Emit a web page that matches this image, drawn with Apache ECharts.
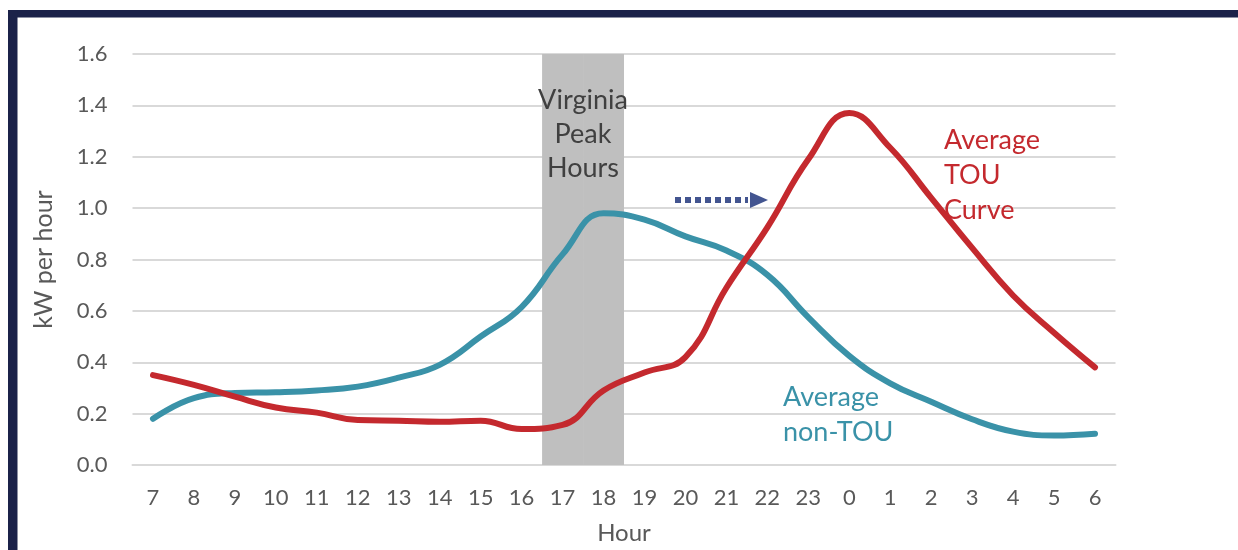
<!DOCTYPE html>
<html>
<head>
<meta charset="utf-8">
<script src="https://cdn.jsdelivr.net/npm/echarts@6/dist/echarts.min.js"></script>
<style>
html,body{margin:0;padding:0;background:#fff;}
#chart{width:1238px;height:550px;}
</style>
</head>
<body>
<div id="chart"></div>
<script>
const hours = ['7','8','9','10','11','12','13','14','15','16','17','18','19','20','21','22','23','0','1','2','3','4','5','6'];
const nonTou = [0.18,0.26,0.28,0.283,0.29,0.305,0.34,0.39,0.50,0.615,0.82,0.98,0.955,0.89,0.835,0.74,0.575,0.425,0.318,0.246,0.178,0.13,0.115,0.122];
const tou = [0.35,0.312,0.266,0.224,0.204,0.175,0.172,0.168,0.172,0.14,0.156,0.29,0.36,0.42,0.69,0.925,1.19,1.37,1.235,1.04,0.845,0.66,0.515,0.38];
const peakBand = [null,null,null,null,null,null,null,null,null,null,1.6,1.6,null,null,null,null,null,null,null,null,null,null,null,null];
const yTicks = {min:0, max:1.6, interval:0.2};

const FONT = 'Lato, "DejaVu Sans", sans-serif';
const GREY = '#595959';
const RED = '#c4292e';
const TEAL = '#3a92a8';
const NAVY = '#1b2249';

const chart = echarts.init(document.getElementById('chart'));
chart.setOption({
  animation:false,
  backgroundColor:'#fff',
  grid:{left:132.5, right:122.5, top:54, bottom:85},
  xAxis:{
    type:'category', data:hours, boundaryGap:true,
    axisLine:{lineStyle:{color:'#d9d9d9', width:2}},
    axisTick:{show:false},
    axisLabel:{color:GREY, fontSize:22, fontFamily:FONT, margin:22, interval:0},
    name:'Hour', nameLocation:'middle', nameGap:56,
    nameTextStyle:{color:GREY, fontSize:24, fontFamily:FONT}
  },
  yAxis:{
    type:'value', min:yTicks.min, max:yTicks.max, interval:yTicks.interval,
    axisLine:{show:false}, axisTick:{show:false},
    splitLine:{lineStyle:{color:'#d9d9d9', width:2}},
    axisLabel:{color:GREY, fontSize:22, fontFamily:FONT, margin:25, formatter:v=>v.toFixed(1)},
    name:'kW per hour', nameLocation:'middle', nameGap:76, nameRotate:90,
    nameTextStyle:{color:GREY, fontSize:25, fontFamily:FONT}
  },
  series:[
    {type:'bar', data:peakBand, barCategoryGap:'0%', barGap:'0%', itemStyle:{color:'#bfbfbf'}, z:1, silent:true},
    {type:'line', data:nonTou, smooth:0.45, symbol:'none', lineStyle:{color:TEAL, width:6, cap:'round'}, z:3},
    {type:'line', data:tou, smooth:0.45, symbol:'none', lineStyle:{color:RED, width:6, cap:'round'}, z:4}
  ],
  graphic:[
    {type:'rect', shape:{x:8, y:10, width:1230, height:7.5}, style:{fill:NAVY}, z:100},
    {type:'rect', shape:{x:8, y:10, width:9.5, height:540}, style:{fill:NAVY}, z:100},
    {type:'text', x:583, y:83, z:50, style:{text:'Virginia\nPeak\nHours', fill:'#404040', font:'27px '+FONT, align:'center', lineHeight:34}},
    {type:'text', x:944, y:123, z:50, style:{text:'Average\nTOU\nCurve', fill:RED, font:'27px '+FONT, align:'left', lineHeight:35}},
    {type:'text', x:783, y:380, z:50, style:{text:'Average\nnon-TOU', fill:TEAL, font:'27px '+FONT, align:'left', lineHeight:35}},
    {type:'line', shape:{x1:675, y1:200, x2:748, y2:200}, style:{stroke:'#435590', lineWidth:6, lineDash:[6,4]}, z:50},
    {type:'polygon', shape:{points:[[750,192],[768,200],[750,208]]}, style:{fill:'#435590'}, z:50}
  ]
});
</script>
</body>
</html>
